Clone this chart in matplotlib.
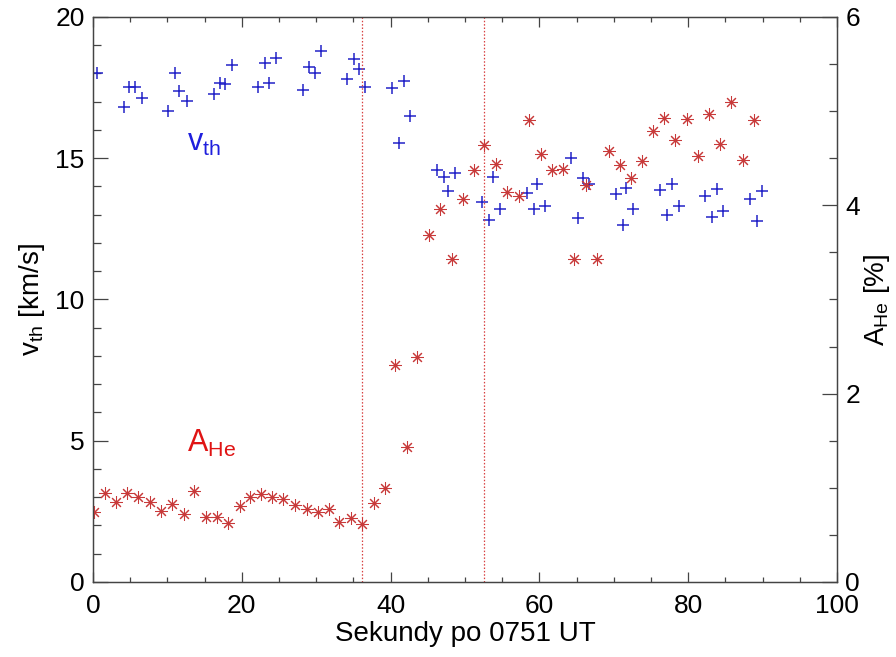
import matplotlib
matplotlib.use("Agg")
import matplotlib.pyplot as plt
from matplotlib.ticker import MultipleLocator

plt.rcParams['font.family'] = ['Liberation Sans', 'DejaVu Sans']
plt.rcParams['mathtext.fontset'] = 'custom'
plt.rcParams['mathtext.rm'] = 'Liberation Sans'
plt.rcParams['mathtext.it'] = 'Liberation Sans'

# thermal velocity samples [s after 07:51 UT, km/s]
t_vth = [0.6, 4.1, 4.9, 5.6, 6.55, 10.1, 11.0, 11.6, 12.6, 16.2, 17.1, 17.8, 18.7,
         22.2, 23.1, 23.7, 24.6, 28.2, 29.0, 29.8, 30.6, 34.1, 35.1, 35.7, 36.6,
         40.2, 41.1, 41.8, 42.6, 46.3, 47.2, 47.7, 48.6, 52.3, 53.2, 53.7, 54.7,
         58.3, 59.3, 59.7, 60.7, 64.2, 65.2, 65.8, 66.7, 70.3, 71.2, 71.7, 72.6,
         76.2, 77.2, 77.8, 78.8, 82.3, 83.2, 83.8, 84.7, 88.3, 89.2, 89.9]
vth = [18.03, 16.80, 17.52, 17.52, 17.12, 16.67, 18.03, 17.38, 17.02, 17.27, 17.67, 17.63, 18.30,
       17.53, 18.38, 17.65, 18.56, 17.42, 18.24, 18.01, 18.80, 17.81, 18.51, 18.16, 17.53,
       17.49, 15.54, 17.72, 16.50, 14.58, 14.35, 13.84, 14.47, 13.45, 12.81, 14.34, 13.19,
       13.76, 13.20, 14.08, 13.31, 15.00, 12.87, 14.31, 14.08, 13.72, 12.64, 13.94, 13.20,
       13.88, 12.99, 14.10, 13.31, 13.67, 12.93, 13.91, 13.14, 13.55, 12.78, 13.84]

# helium abundance samples [s after 07:51 UT, %]
t_ahe = [0.2, 1.6, 3.1, 4.6, 6.1, 7.6, 9.1, 10.6, 12.2, 13.6, 15.2, 16.6, 18.2, 19.7,
         21.1, 22.6, 24.1, 25.6, 27.2, 28.7, 30.2, 31.7, 33.1, 34.7, 36.2, 37.7, 39.2,
         40.6, 42.2, 43.6, 45.1, 46.7, 48.2, 49.7, 51.2, 52.6, 54.2, 55.7, 57.2, 58.6,
         60.2, 61.7, 63.2, 64.6, 66.2, 67.7, 69.3, 70.8, 72.3, 73.8, 75.3, 76.8, 78.2,
         79.8, 81.3, 82.8, 84.3, 85.7, 87.3, 88.8]
ahe = [0.74, 0.95, 0.85, 0.95, 0.90, 0.85, 0.75, 0.83, 0.72, 0.97, 0.69, 0.69, 0.63, 0.81,
       0.90, 0.93, 0.90, 0.88, 0.82, 0.77, 0.74, 0.78, 0.64, 0.68, 0.62, 0.84, 1.00,
       2.30, 1.43, 2.39, 3.68, 3.96, 3.43, 4.07, 4.38, 4.64, 4.44, 4.14, 4.10, 4.91,
       4.54, 4.38, 4.39, 3.43, 4.22, 3.43, 4.58, 4.43, 4.29, 4.47, 4.79, 4.93, 4.69,
       4.92, 4.52, 4.97, 4.65, 5.10, 4.48, 4.91]

# boundaries of the transition interval [s]
boundaries = [36.1, 52.6]

FS = 19
blue = '#2323c8'
red = '#c83a3a'

fig = plt.figure(figsize=(8.96, 6.57), dpi=100)
ax = fig.add_axes([0.1038, 0.1142, 0.8304, 0.8600])
ax2 = ax.twinx()

ax.plot(t_vth, vth, linestyle='none', marker='+', markersize=8.5, markeredgewidth=1.1,
        color=blue)
ax2.plot(t_ahe, ahe, linestyle='none', marker=(8, 2, 0), markersize=9,
         markeredgewidth=0.75, color=red)

for b in boundaries:
    ax.axvline(b, color='#d84040', linestyle=(0, (1.2, 1.5)), linewidth=0.9)

ax.set_xlim(0, 100)
ax.set_ylim(0, 20)
ax2.set_ylim(0, 6)

ax.xaxis.set_major_locator(MultipleLocator(20))
ax.xaxis.set_minor_locator(MultipleLocator(5))
ax.yaxis.set_major_locator(MultipleLocator(5))
ax.yaxis.set_minor_locator(MultipleLocator(1))
ax2.yaxis.set_major_locator(MultipleLocator(2))
ax2.yaxis.set_minor_locator(MultipleLocator(0.5))

ax.tick_params(axis='x', which='both', direction='in', top=True, bottom=True,
               labelsize=FS, pad=9, width=0.9, color='#444444')
ax.tick_params(axis='x', which='major', length=7.5)
ax.tick_params(axis='x', which='minor', length=3.8)
ax.tick_params(axis='y', which='both', direction='in', left=True, right=False,
               labelsize=FS, pad=6, width=0.9, color='#444444')
ax.tick_params(axis='y', which='major', length=11)
ax.tick_params(axis='y', which='minor', length=5.5)
ax2.tick_params(axis='y', which='both', direction='in', labelsize=FS, pad=6,
                width=0.9, color='#444444')
ax2.tick_params(axis='y', which='major', length=11)
ax2.tick_params(axis='y', which='minor', length=5.5)

for a in (ax, ax2):
    for s in a.spines.values():
        s.set_linewidth(0.9)
        s.set_color('#444444')

ax.set_xlabel('Sekundy po 0751 UT', fontsize=FS + 1, labelpad=2)
ax.set_ylabel(r'$\mathregular{v_{th}}$ [km/s]', fontsize=FS + 1, labelpad=6)
ax2.set_ylabel(r'$\mathregular{A_{He}}$ [%]', fontsize=FS + 1, labelpad=1)

ax.text(12.6, 15.25, r'$\mathregular{v_{th}}$', fontsize=22, color='#1f1fdd',
        ha='left', va='baseline')
ax.text(12.6, 4.6, r'$\mathregular{A_{He}}$', fontsize=22, color='#e01414',
        ha='left', va='baseline')

fig.savefig('out.png', dpi=100)
